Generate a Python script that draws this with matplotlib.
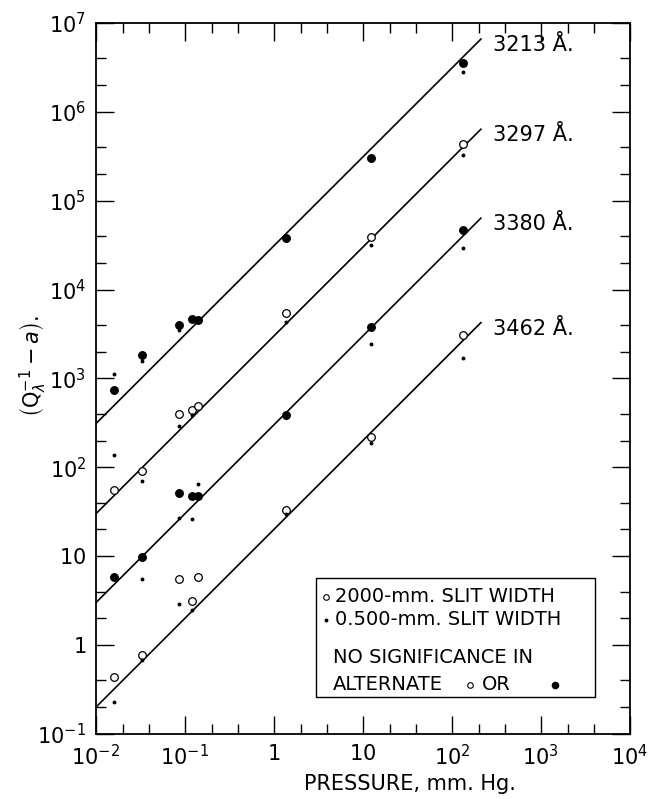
import numpy as np
import matplotlib
matplotlib.use("Agg")
import matplotlib.pyplot as plt
from matplotlib.patches import Rectangle
from matplotlib.ticker import FixedLocator, FixedFormatter, LogLocator, NullFormatter

# ==========================================
# 1. DADOS
# ==========================================

PRESSURE = [0.016, 0.033, 0.086, 0.12, 0.14, 1.36, 12.2, 132]

# circulos grandes (fenda de 2000 mm)
WIDE_3213 = [740, 1840, 3980, 4700, 4500, 38000, 3.0e5, 3.5e6]
WIDE_3297 = [56, 91, 393, 440, 490, 5400, 3.9e4, 4.3e5]
WIDE_3380 = [5.8, 9.9, 52, 47, 47, 390, 3740, 4.7e4]
WIDE_3462 = [0.44, 0.78, 5.6, 3.1, 5.9, 33, 220, 3100]

# pontos pequenos (fenda de 0.500 mm)
NAN = float("nan")
NARROW_3213 = [1130, 1550, 3500, NAN, NAN, 36000, NAN, 2.8e6]
NARROW_3297 = [138, 71, 295, 390, NAN, 4300, 3.2e4, 3.3e5]
NARROW_3380 = [NAN, 5.6, 27, 26, 65, 370, 2460, 2.9e4]
NARROW_3462 = [0.23, 0.68, 2.9, 2.46, NAN, 30, 190, 1700]

# retas ajustadas: y = coef * p
LINE_COEF = [3.1e4, 3.0e3, 3.0e2, 20]
LINE_RANGE = [0.01, 212]
LINE_LABELS = ["3213 Å.", "3297 Å.", "3380 Å.", "3462 Å."]
FILLED = [True, False, True, False]

X_TICKS = [1e-2, 1e-1, 1, 10, 1e2, 1e3, 1e4]
X_TICK_LABELS = [r"$10^{-2}$", r"$10^{-1}$", r"$1$", r"$10$", r"$10^{2}$", r"$10^{3}$", r"$10^{4}$"]
Y_TICKS = [1e-1, 1, 10, 1e2, 1e3, 1e4, 1e5, 1e6, 1e7]
Y_TICK_LABELS = [r"$10^{-1}$", r"$1$", r"$10$", r"$10^{2}$", r"$10^{3}$",
                 r"$10^{4}$", r"$10^{5}$", r"$10^{6}$", r"$10^{7}$"]

# ==========================================
# 2. FIGURA
# ==========================================

plt.rcParams["font.family"] = ["DejaVu Sans"]
plt.rcParams["mathtext.fontset"] = "dejavusans"

fig = plt.figure(figsize=(6.48, 7.99), dpi=100)
ax = fig.add_axes([0.148, 0.0814, 0.824, 0.890])
ax.set_xscale("log")
ax.set_yscale("log")
ax.set_xlim(1e-2, 1e4)
ax.set_ylim(1e-1, 1e7)

wide = [WIDE_3213, WIDE_3297, WIDE_3380, WIDE_3462]
narrow = [NARROW_3213, NARROW_3297, NARROW_3380, NARROW_3462]

p_line = np.array(LINE_RANGE)
for coef, label, cheio, yw, yn in zip(LINE_COEF, LINE_LABELS, FILLED, wide, narrow):
    ax.plot(p_line, coef * p_line, color="black", lw=1.2, zorder=2)
    ax.plot(PRESSURE, yw, "o", ms=5.5, mec="black", mew=0.9,
            mfc="black" if cheio else "white", zorder=3)
    ax.plot(PRESSURE, yn, "o", ms=1.8, color="black", zorder=4)
    ax.text(290, coef * p_line[-1] * 0.85, label, fontsize=15, va="center", ha="left")

# ticks para dentro, em todos os lados
ax.xaxis.set_major_locator(FixedLocator(X_TICKS))
ax.xaxis.set_major_formatter(FixedFormatter(X_TICK_LABELS))
ax.yaxis.set_major_locator(FixedLocator(Y_TICKS))
ax.yaxis.set_major_formatter(FixedFormatter(Y_TICK_LABELS))
for eixo in (ax.xaxis, ax.yaxis):
    eixo.set_minor_locator(LogLocator(base=10, subs=(2, 4)))
    eixo.set_minor_formatter(NullFormatter())
ax.tick_params(which="both", direction="in", top=True, right=True, width=1)
ax.tick_params(which="major", length=13, labelsize=15, pad=7)
ax.tick_params(which="minor", length=7)
for s in ax.spines.values():
    s.set_linewidth(1.3)

ax.set_xlabel("PRESSURE, mm. Hg.", fontsize=15)
ax.xaxis.set_label_coords(0.588, -0.057)
ax.set_ylabel(r"$\left(\mathrm{Q}_{\lambda}^{-1}-a\right)$.", fontsize=15)
ax.yaxis.set_label_coords(-0.09, 0.517)

# ==========================================
# 3. LEGENDA (caixa desenhada a mão)
# ==========================================

ax.add_patch(Rectangle((0.412, 0.052), 0.522, 0.1674, transform=ax.transAxes,
                       fill=True, fc="white", ec="black", lw=1.0, zorder=5))
ax.plot([0.431], [0.1927], "o", ms=4, mfc="white", mec="black", mew=0.8,
        transform=ax.transAxes, zorder=6)
ax.plot([0.431], [0.1603], "o", ms=1.8, color="black", transform=ax.transAxes, zorder=6)
ax.text(0.447, 0.1927, "2000-mm. SLIT WIDTH", transform=ax.transAxes,
        fontsize=14, va="center", zorder=6)
ax.text(0.447, 0.1603, "0.500-mm. SLIT WIDTH", transform=ax.transAxes,
        fontsize=14, va="center", zorder=6)
ax.text(0.444, 0.1069, "NO SIGNIFICANCE IN", transform=ax.transAxes,
        fontsize=14, va="center", zorder=6)
ax.text(0.444, 0.0689, "ALTERNATE", transform=ax.transAxes,
        fontsize=14, va="center", zorder=6)
ax.plot([0.700], [0.0689], "o", ms=4, mfc="white", mec="black", mew=0.8,
        transform=ax.transAxes, zorder=6)
ax.text(0.722, 0.0689, "OR", transform=ax.transAxes, fontsize=14, va="center", zorder=6)
ax.plot([0.860], [0.0689], "o", ms=4.5, color="black", transform=ax.transAxes, zorder=6)

fig.savefig("out.png", dpi=100)
